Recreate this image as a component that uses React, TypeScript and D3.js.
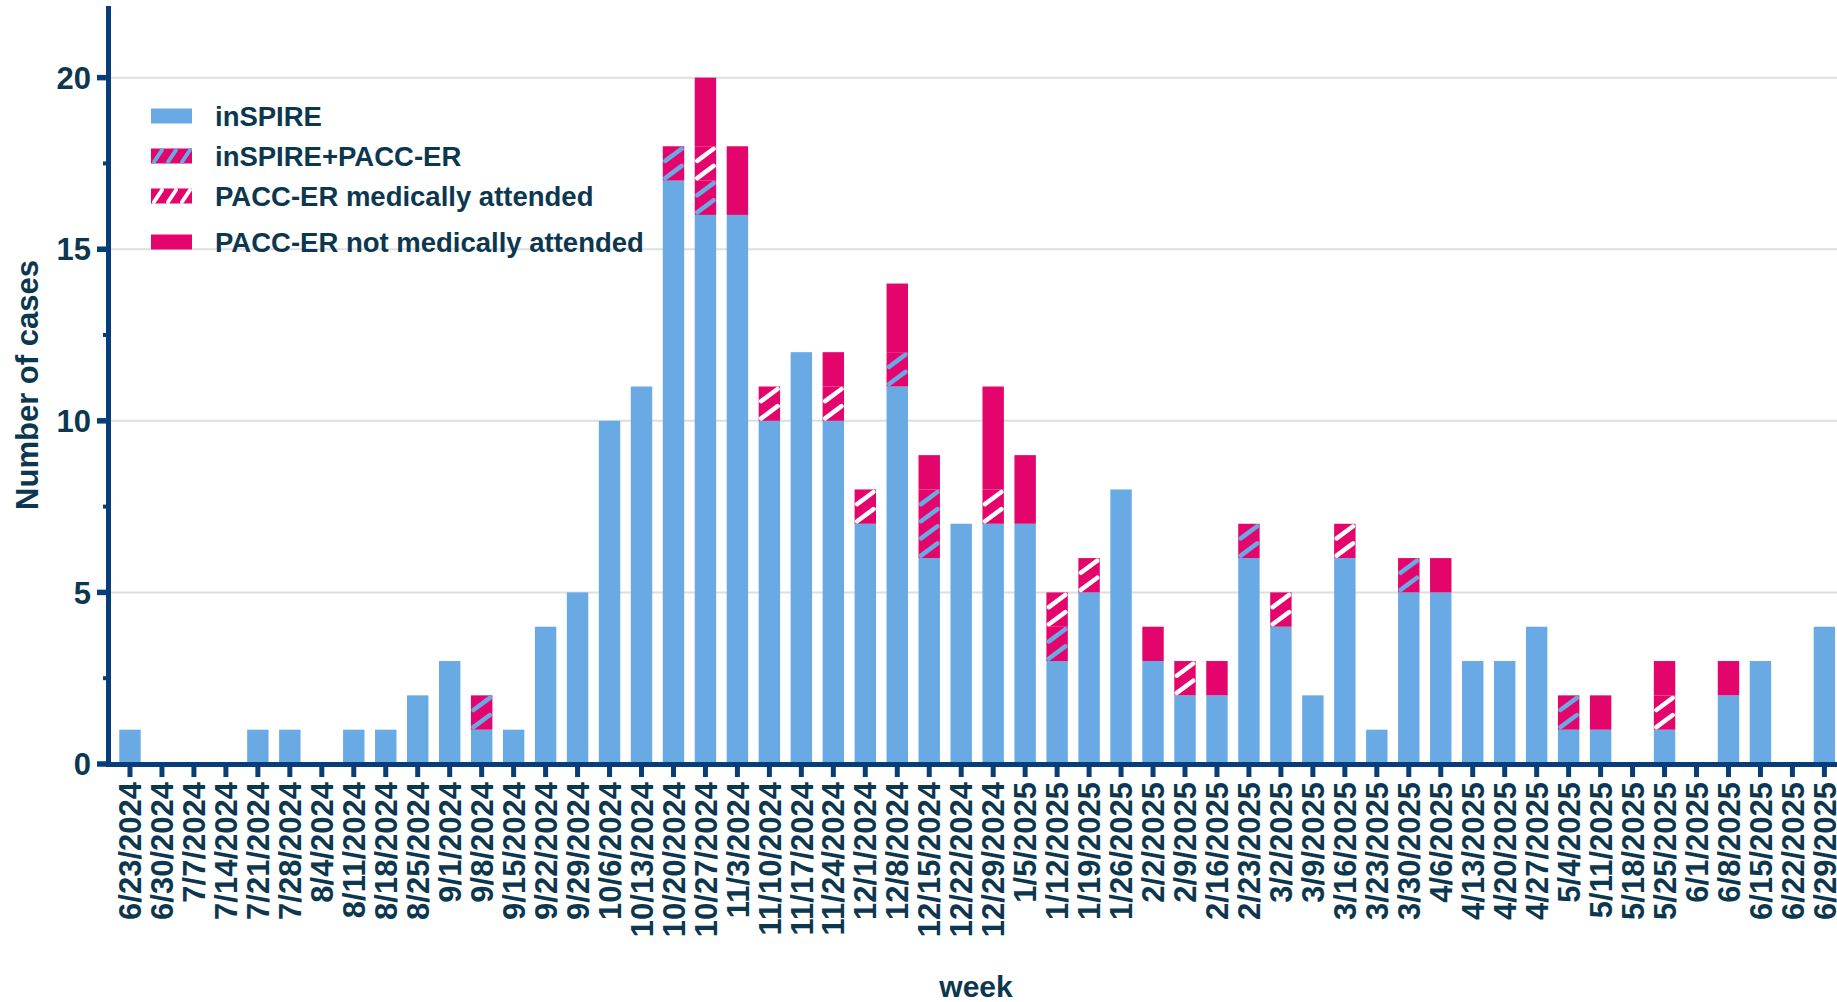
import * as d3 from "d3";

const weeks = [
  "6/23/2024", "6/30/2024", "7/7/2024", "7/14/2024", "7/21/2024", "7/28/2024", "8/4/2024", "8/11/2024",
  "8/18/2024", "8/25/2024", "9/1/2024", "9/8/2024", "9/15/2024", "9/22/2024", "9/29/2024", "10/6/2024",
  "10/13/2024", "10/20/2024", "10/27/2024", "11/3/2024", "11/10/2024", "11/17/2024", "11/24/2024", "12/1/2024",
  "12/8/2024", "12/15/2024", "12/22/2024", "12/29/2024", "1/5/2025", "1/12/2025", "1/19/2025", "1/26/2025",
  "2/2/2025", "2/9/2025", "2/16/2025", "2/23/2025", "3/2/2025", "3/9/2025", "3/16/2025", "3/23/2025",
  "3/30/2025", "4/6/2025", "4/13/2025", "4/20/2025", "4/27/2025", "5/4/2025", "5/11/2025", "5/18/2025",
  "5/25/2025", "6/1/2025", "6/8/2025", "6/15/2025", "6/22/2025", "6/29/2025",
];

// cases per week, one array per series (bottom to top of the stack)
const inspire = [
  1, 0, 0, 0, 1, 1, 0, 1, 1, 2, 3, 1, 1, 4, 5, 10, 11, 17, 16, 16, 10, 12, 10, 7, 11, 6, 7,
  7, 7, 3, 5, 8, 3, 2, 2, 6, 4, 2, 6, 1, 5, 5, 3, 3, 4, 1, 1, 0, 1, 0, 2, 3, 0, 4,
];
const inspirePacc = [
  0, 0, 0, 0, 0, 0, 0, 0, 0, 0, 0, 1, 0, 0, 0, 0, 0, 1, 1, 0, 0, 0, 0, 0, 1, 2, 0,
  0, 0, 1, 0, 0, 0, 0, 0, 1, 0, 0, 0, 0, 1, 0, 0, 0, 0, 1, 0, 0, 0, 0, 0, 0, 0, 0,
];
const paccAttended = [
  0, 0, 0, 0, 0, 0, 0, 0, 0, 0, 0, 0, 0, 0, 0, 0, 0, 0, 1, 0, 1, 0, 1, 1, 0, 0, 0,
  1, 0, 1, 1, 0, 0, 1, 0, 0, 1, 0, 1, 0, 0, 0, 0, 0, 0, 0, 0, 0, 1, 0, 0, 0, 0, 0,
];
const paccNotAttended = [
  0, 0, 0, 0, 0, 0, 0, 0, 0, 0, 0, 0, 0, 0, 0, 0, 0, 0, 2, 2, 0, 0, 1, 0, 2, 1, 0,
  3, 2, 0, 0, 0, 1, 0, 1, 0, 0, 0, 0, 0, 0, 1, 0, 0, 0, 0, 1, 0, 1, 0, 1, 0, 0, 0,
];

const seriesKeys = ["inspire", "inspirePacc", "paccAttended", "paccNotAttended"];
const legendLabels = ["inSPIRE", "inSPIRE+PACC-ER", "PACC-ER medically attended", "PACC-ER not medically attended"];
const yTicks = [0, 5, 10, 15, 20];
const yMinorTicks = [2.5, 7.5, 12.5, 17.5];

const width = 1837;
const height = 1002;
const blue = "#6aaae4";
const pink = "#e4056c";
const axisColor = "#073d78";
const textColor = "#0c374f";
const font = "'Liberation Sans', Arial, sans-serif";

const rows = weeks.map((week, i) => ({
  week,
  inspire: inspire[i],
  inspirePacc: inspirePacc[i],
  paccAttended: paccAttended[i],
  paccNotAttended: paccNotAttended[i],
}));

const stacked = d3.stack<any>().keys(seriesKeys)(rows);

const x = d3.scaleBand<string>().domain(weeks).range([114, 114 + weeks.length * 31.97]).paddingInner(0.33).paddingOuter(0.165);
const y = d3.scaleLinear().domain([0, 22]).range([764, 9]);

const stripeColor: Record<string, string | null> = {
  inspire: null,
  inspirePacc: blue,
  paccAttended: "#ffffff",
  paccNotAttended: null,
};

function Stripes({ x0, x1, yBottom, units, color }: { x0: number; x1: number; yBottom: number; units: number; color: string }) {
  const half = (y(0) - y(1)) / 2;
  const lines = d3.range(units * 2).map((j) => ({
    x1: x0 + 2.5,
    y1: yBottom - j * half - 2.5,
    x2: x1 - 2.5,
    y2: yBottom - (j + 1) * half + 2.5,
  }));
  return (
    <g>
      {lines.map((l, k) => (
        <line key={k} {...l} stroke={color} strokeWidth={4.5} strokeLinecap="round" />
      ))}
    </g>
  );
}

export default function App() {
  const bw = x.bandwidth();
  const legendRows = [116, 156, 196, 242];

  return (
    <svg width={width} height={height} style={{ position: "absolute", left: 0, top: 0, background: "#fff" }} fontFamily={font}>
      {/* gridlines */}
      {yTicks.filter((t) => t > 0).map((t) => (
        <line key={`g-${t}`} x1={111} x2={width} y1={y(t)} y2={y(t)} stroke="#dedede" strokeWidth={2} />
      ))}

      {/* bars */}
      {stacked.map((layer) => (
        <g key={layer.key}>
          {layer.map((d, i) => {
            const v = d[1] - d[0];
            if (v <= 0) return null;
            const bx = x(weeks[i]) ?? 0;
            const stripe = stripeColor[layer.key];
            return (
              <g key={i}>
                <rect x={bx} y={y(d[1])} width={bw} height={y(d[0]) - y(d[1])} fill={layer.key === "inspire" ? blue : pink} />
                {stripe ? <Stripes x0={bx} x1={bx + bw} yBottom={y(d[0])} units={v} color={stripe} /> : null}
              </g>
            );
          })}
        </g>
      ))}

      {/* y axis */}
      <line x1={108.5} x2={108.5} y1={6} y2={766.5} stroke={axisColor} strokeWidth={5} />
      {yTicks.map((t) => (
        <g key={`yt-${t}`}>
          <line x1={97} x2={108.5} y1={y(t)} y2={y(t)} stroke={axisColor} strokeWidth={5.5} />
          <text x={91} y={y(t)} dy="0.36em" textAnchor="end" fontSize={31} fontWeight="bold" fill={textColor}>{t}</text>
        </g>
      ))}
      {yMinorTicks.map((t) => (
        <line key={`ym-${t}`} x1={103} x2={108.5} y1={y(t)} y2={y(t)} stroke={axisColor} strokeWidth={4} />
      ))}
      <text transform={`translate(38, ${(y(0) + 6) / 2}) rotate(-90)`} textAnchor="middle" fontSize={31} fontWeight="bold" fill={textColor}>
        Number of cases
      </text>

      {/* x axis */}
      <line x1={106} x2={width} y1={764.5} y2={764.5} stroke={axisColor} strokeWidth={5} />
      {weeks.map((w) => {
        const cx = (x(w) ?? 0) + bw / 2;
        return (
          <g key={`xt-${w}`}>
            <line x1={cx} x2={cx} y1={764.5} y2={777} stroke={axisColor} strokeWidth={5} />
            <text transform={`translate(${cx}, 782) rotate(-90)`} dy="0.36em" textAnchor="end" fontSize={31} fontWeight="bold" fill={textColor}>
              {w}
            </text>
          </g>
        );
      })}
      <text x={976} y={997} textAnchor="middle" fontSize={30} fontWeight="bold" fill={textColor}>week</text>

      {/* legend */}
      {seriesKeys.map((key, i) => {
        const cy = legendRows[i];
        const sx = 151;
        const sw = 41;
        const sh = 15;
        const stripe = stripeColor[key];
        return (
          <g key={`lg-${key}`}>
            <rect x={sx} y={cy - sh / 2} width={sw} height={sh} fill={key === "inspire" ? blue : pink} />
            {stripe
              ? d3.range(3).map((k) => (
                  <line
                    key={k}
                    x1={sx + 3 + k * 14}
                    y1={cy + sh / 2 - 1.5}
                    x2={sx + 11 + k * 14}
                    y2={cy - sh / 2 + 1.5}
                    stroke={stripe}
                    strokeWidth={4}
                    strokeLinecap="round"
                  />
                ))
              : null}
            <text x={215} y={cy} dy="0.36em" fontSize={27.5} fontWeight="bold" fill={textColor}>{legendLabels[i]}</text>
          </g>
        );
      })}
    </svg>
  );
}
